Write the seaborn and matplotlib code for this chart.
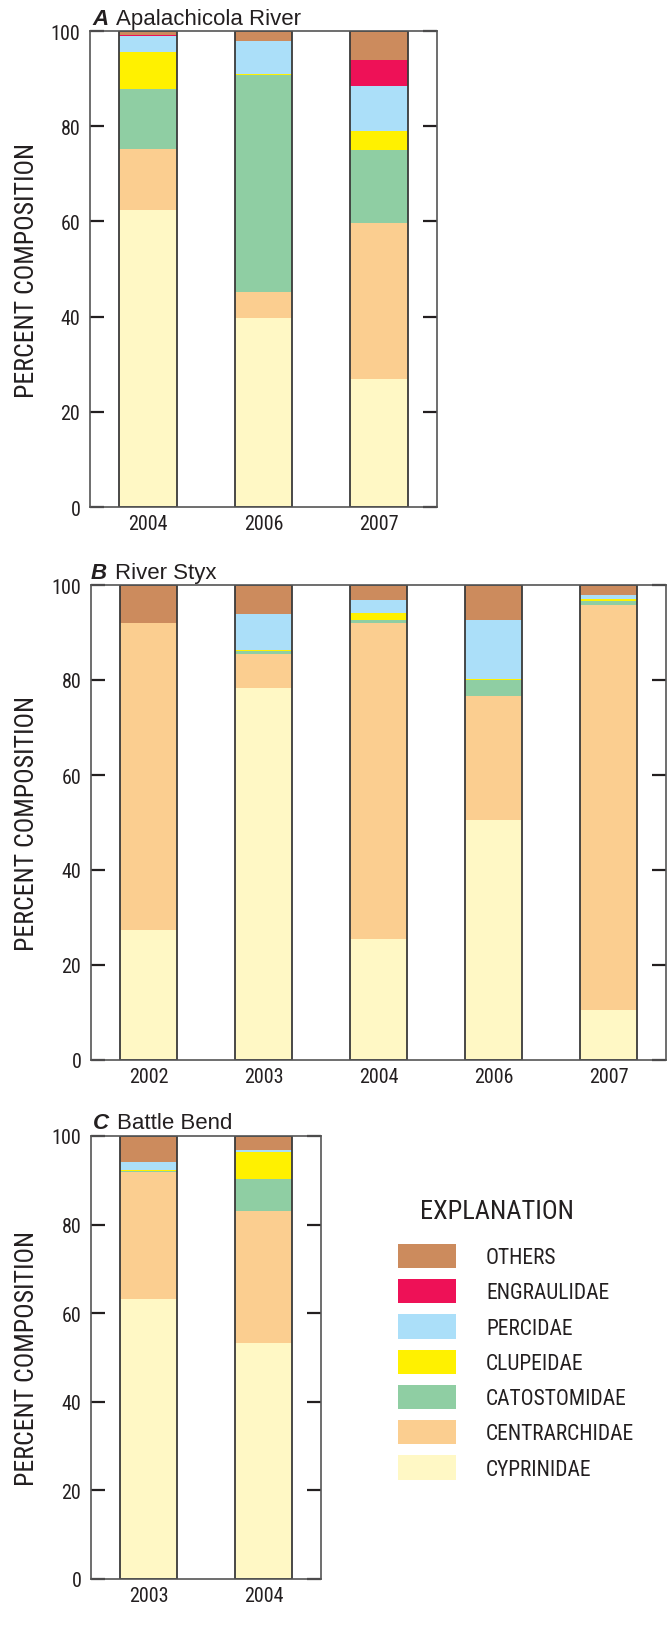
import numpy as np
import pandas as pd
import matplotlib
matplotlib.use("Agg")
import matplotlib.pyplot as plt
from matplotlib import font_manager as fm
from matplotlib.patches import Patch
import seaborn as sns

# Fish families, bottom of the stack first
families = ["CYPRINIDAE", "CENTRARCHIDAE", "CATOSTOMIDAE", "CLUPEIDAE",
            "PERCIDAE", "ENGRAULIDAE", "OTHERS"]
family_colors = ["#FFF8C5", "#FBCE90", "#8FCEA3", "#FFF100",
                 "#ABDFF9", "#EE1157", "#CC8B5D"]

# A. Apalachicola River (percent composition)
apal_years = ["2004", "2006", "2007"]
apal_cyprinidae = [62.3, 39.8, 26.8]
apal_centrarchidae = [13.0, 5.4, 32.9]
apal_catostomidae = [12.6, 45.6, 15.2]
apal_clupeidae = [7.6, 0.2, 4.0]
apal_percidae = [3.4, 7.0, 9.6]
apal_engraulidae = [0.2, 0.0, 5.5]
apal_others = [0.9, 2.0, 6.0]

# B. River Styx
styx_years = ["2002", "2003", "2004", "2006", "2007"]
styx_cyprinidae = [27.4, 78.3, 25.5, 50.5, 10.6]
styx_centrarchidae = [64.5, 7.1, 66.4, 26.1, 85.1]
styx_catostomidae = [0.0, 0.7, 0.7, 3.4, 0.9]
styx_clupeidae = [0.0, 0.2, 1.5, 0.2, 0.5]
styx_percidae = [0.0, 7.7, 2.7, 12.4, 0.8]
styx_engraulidae = [0.0, 0.0, 0.0, 0.0, 0.0]
styx_others = [8.1, 6.0, 3.2, 7.4, 2.1]

# C. Battle Bend
battle_years = ["2003", "2004"]
battle_cyprinidae = [63.1, 53.2]
battle_centrarchidae = [28.7, 29.9]
battle_catostomidae = [0.2, 7.1]
battle_clupeidae = [0.3, 6.3]
battle_percidae = [1.8, 0.3]
battle_engraulidae = [0.0, 0.0]
battle_others = [5.9, 3.2]

TEXT = "#231F20"
EDGE = "#3A3A3A"

# Pick a condensed sans for axis text
_available = {f.name for f in fm.fontManager.ttflist}
NARROW_FAMILY = None
for cand in ["Roboto Condensed", "Archivo Narrow", "PT Sans Narrow",
             "Liberation Sans Narrow", "Sofia Sans Condensed"]:
    if cand in _available:
        NARROW_FAMILY = cand
        break

sns.set_style("white")
if NARROW_FAMILY is None:
    plt.rcParams["font.family"] = ["DejaVu Sans"]
    plt.rcParams["font.stretch"] = "condensed"
else:
    plt.rcParams["font.family"] = [NARROW_FAMILY, "DejaVu Sans"]
REGULAR = ["Liberation Sans", "DejaVu Sans"]
plt.rcParams["text.color"] = TEXT
plt.rcParams["xtick.color"] = TEXT
plt.rcParams["ytick.color"] = TEXT

W, H = 669, 1640
fig = plt.figure(figsize=(W / 100, H / 100), dpi=100)


def px_axes(left, top, right, bottom):
    return fig.add_axes([left / W, 1 - bottom / H, (right - left) / W, (bottom - top) / H])


def draw_panel(ax, years, columns, letter, name, title_px):
    table = pd.DataFrame(dict(zip(families, columns)), index=years)
    tops = table.cumsum(axis=1)
    long = (tops.reset_index(names="year")
            .melt(id_vars="year", var_name="family", value_name="top"))
    # Stack by overlaying cumulative heights, tallest layer first
    for fam, col in reversed(list(zip(families, family_colors))):
        sub = long[long["family"] == fam]
        sns.barplot(data=sub, x="year", y="top", order=years, color=col,
                    saturation=1, width=0.5, linewidth=0, errorbar=None, ax=ax)
    # Bar outlines
    totals = long[long["family"] == families[-1]]
    sns.barplot(data=totals, x="year", y="top", order=years, color=EDGE,
                fill=False, width=0.5, linewidth=1.3, errorbar=None, ax=ax)

    ax.set_xlim(-0.5, len(years) - 0.5)
    ax.set_ylim(0, 100)
    ax.set_yticks(np.arange(0, 101, 20))
    ax.set_xlabel("")
    ax.set_ylabel("")
    ax.tick_params(axis="y", direction="in", left=True, right=True,
                   length=10, width=1.6, labelsize=14.5, pad=7)
    ax.tick_params(axis="x", length=0, labelsize=14.5, pad=5)
    for sp in ax.spines.values():
        sp.set_visible(True)
        sp.set_color("#555555")
        sp.set_linewidth(1.2)

    tx, ty = title_px
    fig.text(tx / W, 1 - ty / H, letter, fontsize=16, fontweight="bold",
             style="italic", family=REGULAR, va="baseline", color=TEXT)
    fig.text((tx + 24) / W, 1 - ty / H, name, fontsize=16, family=REGULAR,
             va="baseline", color=TEXT)
    bb = ax.get_position()
    fig.text(27 / W, bb.y0 + bb.height / 2, "PERCENT COMPOSITION",
             rotation=90, ha="center", va="center", fontsize=18.5, color=TEXT)


ax_a = px_axes(90, 32, 437, 508)
draw_panel(ax_a, apal_years,
           [apal_cyprinidae, apal_centrarchidae, apal_catostomidae, apal_clupeidae,
            apal_percidae, apal_engraulidae, apal_others],
           "A", "Apalachicola River", (92, 25))

ax_b = px_axes(91, 586, 666, 1061)
draw_panel(ax_b, styx_years,
           [styx_cyprinidae, styx_centrarchidae, styx_catostomidae, styx_clupeidae,
            styx_percidae, styx_engraulidae, styx_others],
           "B", "River Styx", (91, 579))

ax_c = px_axes(91, 1137, 321, 1580)
draw_panel(ax_c, battle_years,
           [battle_cyprinidae, battle_centrarchidae, battle_catostomidae, battle_clupeidae,
            battle_percidae, battle_engraulidae, battle_others],
           "C", "Battle Bend", (93, 1129))

# Explanation (legend), top entry first
handles = [Patch(facecolor=c, edgecolor="none") for c in reversed(family_colors)]
labels = list(reversed(families))
fs = 15.5
fpx = fs * 100 / 72
fig.legend(handles, labels, loc="upper left",
           bbox_to_anchor=(398 / W, 1 - 1245 / H), frameon=False,
           fontsize=fs, borderpad=0, borderaxespad=0,
           handlelength=58 / fpx, handleheight=29 / fpx,
           handletextpad=30 / fpx, labelspacing=11 / fpx)
fig.text(420 / W, 1 - 1212 / H, "EXPLANATION", fontsize=19,
         va="center", ha="left", color=TEXT)

fig.savefig("out.png", dpi=100)
